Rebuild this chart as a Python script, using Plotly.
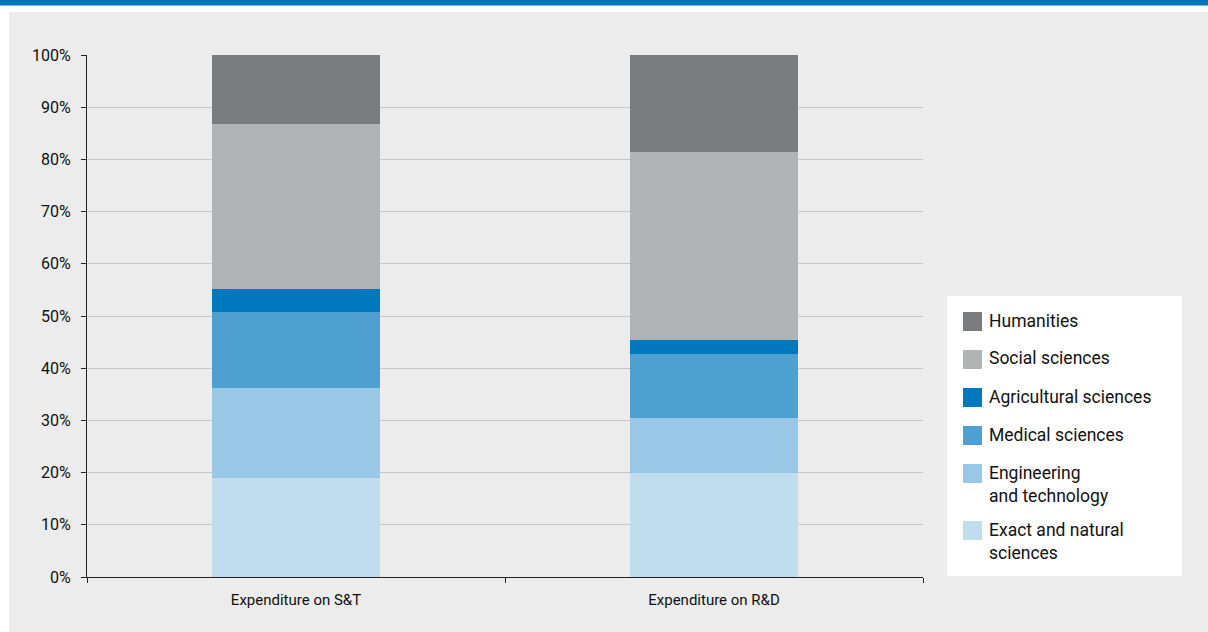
import plotly.graph_objects as go

# Expenditure shares by field of science (%)
categories = ["Expenditure on S&T", "Expenditure on R&D"]
fields = [
    "Exact and natural<br>sciences",
    "Engineering<br>and technology",
    "Medical sciences",
    "Agricultural sciences",
    "Social sciences",
    "Humanities",
]
exact_natural = [19.0, 19.9]
engineering = [17.2, 10.6]
medical = [14.6, 12.2]
agricultural = [4.3, 2.7]
social = [31.7, 36.1]
humanities = [13.2, 18.5]
series = [exact_natural, engineering, medical, agricultural, social, humanities]

y_ticks = [0, 10, 20, 30, 40, 50, 60, 70, 80, 90, 100]
y_tick_labels = [f"{v}%" for v in y_ticks]

colors = ["#c0ddee", "#99c8e6", "#4ea0d0", "#0078bd", "#b2b3b5", "#7b7c7e"]

W, H = 1208, 632
L, R, T, B = 87, 285, 55, 55
PW, PH = W - L - R, H - T - B
FONT = "Roboto, Arial, sans-serif"


def px(x):
    return (x - L) / PW


def py(y):
    return (H - B - y) / PH


fig = go.Figure()
for name, vals, col in zip(fields, series, colors):
    fig.add_trace(go.Bar(
        x=categories, y=vals, name=name.replace("<br>", " "),
        marker=dict(color=col, line=dict(width=0)),
        width=0.404, showlegend=False,
    ))

shapes = [
    # grey panel behind the chart
    dict(type="rect", xref="paper", yref="paper", layer="below",
         x0=px(9), x1=px(W + 5), y0=py(12), y1=py(H + 5),
         fillcolor="#ebeceb", line=dict(width=0)),
    # blue header strip
    dict(type="rect", xref="paper", yref="paper",
         x0=px(-5), x1=px(W + 5), y0=py(5.5), y1=py(-5),
         fillcolor="#0077bd", line=dict(width=0)),
    # legend box
    dict(type="rect", xref="paper", yref="paper",
         x0=px(947), x1=px(1182), y0=py(296), y1=py(576),
         fillcolor="white", line=dict(width=0)),
]
annotations = []

# legend entries, top to bottom
cy = 321.5
for name, col in reversed(list(zip(fields, colors))):
    shapes.append(dict(type="rect", xref="paper", yref="paper",
                       x0=px(963), x1=px(982), y0=py(cy + 9.5), y1=py(cy - 9.5),
                       fillcolor=col, line=dict(width=0)))
    annotations.append(dict(xref="paper", yref="paper", x=px(987), y=py(cy - 13),
                            xanchor="left", yanchor="top", align="left",
                            text=name, showarrow=False,
                            font=dict(family=FONT, size=17.5, color="#111")))
    lines = name.count("<br>") + 1
    cy += 38 + (lines - 1) * 19

fig.update_layout(
    width=W, height=H,
    margin=dict(l=L, r=R, t=T, b=B),
    paper_bgcolor="white",
    plot_bgcolor="white",
    barmode="stack",
    bargap=0.596,
    showlegend=False,
    shapes=shapes,
    annotations=annotations,
    font=dict(family=FONT, size=15, color="#111"),
    xaxis=dict(
        showline=True, linecolor="#222", linewidth=1,
        ticks="outside", tickson="boundaries", ticklen=5, tickcolor="#222",
        showgrid=False, tickfont=dict(size=15), ticklabelstandoff=9,
        fixedrange=True,
    ),
    yaxis=dict(
        range=[0, 100], tickvals=y_ticks, ticktext=y_tick_labels,
        showline=True, linecolor="#222", linewidth=1,
        ticks="outside", ticklen=5, tickcolor="#222",
        showgrid=True, gridcolor="#c6c6c6", gridwidth=1,
        zeroline=False, tickfont=dict(size=16), ticklabelstandoff=7,
        fixedrange=True,
    ),
)

fig.write_html("out.html", config={"displayModeBar": False})
